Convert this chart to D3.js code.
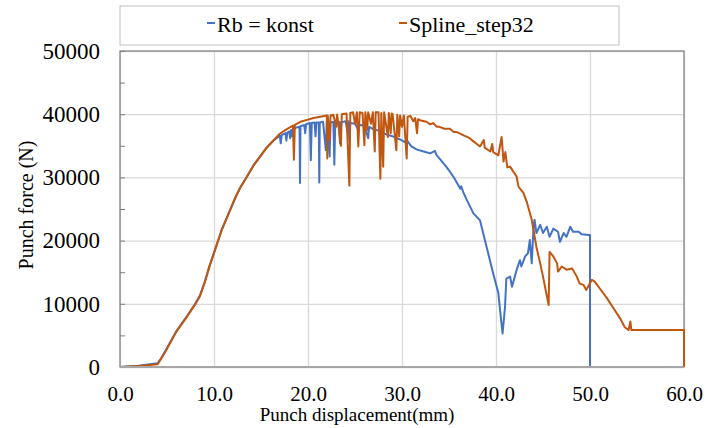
<!DOCTYPE html>
<html>
<head>
<meta charset="utf-8">
<script src="https://cdn.jsdelivr.net/npm/d3@7"></script>
<style>
  body { margin: 0; background: #fff; }
  svg text { font-family: "Liberation Serif", "Times New Roman", serif; fill: #000; }
</style>
</head>
<body>
<div id="graph"></div>
<script>
// punch displacement (mm) / punch force (N)
var rbX = [0, 2.0, 4.0, 4.3, 5.0, 6.0, 7.0, 8.0, 8.5, 9.0, 9.5, 10.1, 10.8, 11.7, 12.3, 12.8, 13.5, 14.2, 14.9, 15.6, 16.3, 17.0,
  17.1, 17.2, 17.6, 17.7, 17.8, 18.0, 18.1, 18.2, 18.3, 18.4, 18.8, 19.1, 19.15, 19.2, 19.6, 19.7, 19.8, 20.2, 20.3, 20.4,
  20.7, 20.8, 20.9, 21.15, 21.2, 21.25, 21.6, 21.9, 22.0, 22.3, 22.4, 22.7, 22.8, 22.9, 23.3, 23.4, 23.5, 24.0, 24.2, 24.3,
  24.4, 24.5, 25.0, 25.3, 25.5, 26.0, 26.4, 26.5, 27.0, 27.5, 28.0, 28.5, 29.0, 29.8, 30.3, 30.5, 31.0, 31.6, 32.3, 33.0,
  33.5, 33.7, 34.2, 34.7, 35.1, 35.6, 36.2, 36.3, 36.5, 36.9, 37.6, 38.3, 39.0, 39.7, 40.25, 40.5, 40.7, 40.96,
  41.1, 41.5, 41.7, 42.0, 42.2, 42.55, 42.7, 43.1, 43.4, 43.6, 43.8, 44.0, 44.1, 44.3, 44.7, 45.0, 45.4, 45.7,
  46.1, 46.6, 46.8, 47.2, 47.5, 47.9, 48.2, 48.8, 49.1, 49.9, 50.0, 50.0];
var rbY = [0, 200, 600, 1200, 3000, 5700, 7800, 10000, 11300, 13400, 15900, 18500, 21600, 24800, 26900, 28400, 30100, 31900, 33300, 34700, 35800, 36600,
  35400, 36700, 37000, 35800, 37100, 37300, 36200, 37500, 36500, 37600, 37900, 38000, 29100, 38100, 38300, 37000, 38400, 38600, 32700, 38600,
  38700, 36500, 38700, 38700, 29200, 38700, 38800, 34300, 38800, 33300, 38700, 38800, 32000, 38800, 38800, 35400, 38700, 38900, 37200, 38900,
  35800, 38600, 38500, 37600, 38300, 38200, 36200, 38000, 37600, 37400, 37000, 36700, 36500, 36000, 35600, 35900, 34900, 34400, 34100, 33800,
  34200, 33500, 32600, 31700, 30900, 29800, 28200, 28600, 27700, 26400, 24300, 23200, 19000, 14800, 11700, 8000, 5300, 9500,
  14000, 14300, 12700, 14300, 15400, 16900, 15900, 17500, 18000, 20100, 16400, 22200, 23300, 21200, 22500, 21200, 22200, 20600,
  21900, 21400, 19800, 21200, 20600, 22200, 21400, 21400, 21000, 20900, 20900, 0];

var splX = [0, 2.0, 4.0, 4.3, 5.0, 6.0, 7.0, 8.0, 8.5, 9.0, 9.5, 10.1, 10.8, 11.7, 12.3, 12.8, 13.5, 14.2, 14.9, 15.6, 16.3, 17.0,
  17.7, 18.4, 18.5, 18.6, 19.2, 19.9, 20.6, 21.3, 22.0, 22.05, 22.1, 22.3, 22.4, 22.7, 23.0, 23.1, 23.5, 23.6, 24.1, 24.4,
  24.5, 24.8, 25.0, 25.2, 25.35, 25.5, 25.8, 26.0, 26.1, 26.3, 26.4, 26.7, 26.9, 27.1, 27.2, 27.5, 27.7, 27.8, 28.0,
  28.1, 28.5, 28.6, 28.8, 28.9, 29.0, 29.4, 29.5, 29.7, 29.8, 30.0, 30.2, 30.5, 30.6, 30.9, 31.2, 31.4, 31.6, 31.7, 32.0, 32.6,
  33.0, 33.3, 33.7, 34.0, 34.5, 35.1, 35.5, 35.8, 36.5, 37.2, 37.6, 38.3, 38.7, 38.8, 39.4, 39.6, 39.7, 40.25,
  40.6, 40.8, 41.0, 41.2, 41.5, 42.2, 42.4, 42.9, 43.3, 43.8, 44.3, 44.7, 45.0, 45.6, 45.7, 46.1, 46.5, 46.6,
  47.0, 47.5, 48.1, 48.6, 48.9, 49.3, 49.6, 50.2, 50.5, 51.1, 51.8, 52.5, 53.2, 53.7, 54.1, 54.3, 54.4, 60.0, 60.0];
var splY = [0, 150, 450, 1100, 2900, 5600, 7700, 9900, 11200, 13300, 15800, 18500, 21600, 24800, 26900, 28400, 30100, 31900, 33300, 34700, 35800, 36900,
  37600, 38200, 32800, 38300, 38800, 39100, 39400, 39600, 39800, 33000, 39800, 35900, 39800, 39900, 38000, 39950, 35000, 40000, 40100, 28700,
  40200, 40300, 38500, 40300, 34900, 40300, 40200, 35100, 40300, 37500, 40300, 38500, 40300, 34100, 40300, 40300, 29800, 40200, 31700,
  40300, 36400, 40200, 37000, 40100, 40000, 34300, 39900, 36500, 39800, 38000, 39800, 33000, 39600, 39700, 38900, 39400, 37000, 39200, 39000, 38800,
  38400, 38600, 38000, 38000, 37700, 37700, 37200, 37200, 36700, 36200, 35700, 34900, 35900, 34700, 34100, 35300, 34000, 33500,
  36400, 32500, 34000, 31600, 31700, 30100, 28500, 27600, 26000, 23300, 19000, 16400, 14300, 9800, 18200, 17500, 16400, 15100,
  15900, 15400, 15600, 14300, 13200, 13000, 12200, 13800, 13500, 12300, 10900, 9300, 7700, 6300, 5850, 7200, 5850, 5850, 0];

var seriesNames = ["Rb = konst", "Spline_step32"];
var seriesColors = ["#4472C4", "#C0560F"];
var xTicks = [0, 10, 20, 30, 40, 50, 60];
var yTicks = [0, 10000, 20000, 30000, 40000, 50000];

var W = 712, H = 428;
var margin = {top: 51, right: 28, bottom: 61, left: 120};
var width = W - margin.left - margin.right,
    height = H - margin.top - margin.bottom;

var svg = d3.select("#graph").append("svg")
    .attr("width", W)
    .attr("height", H);

var g = svg.append("g")
    .attr("transform", "translate(" + margin.left + "," + margin.top + ")");

var x = d3.scaleLinear().domain([0, 60]).range([0, width]);
var y = d3.scaleLinear().domain([0, 50000]).range([height, 0]);

function serif(s, size) {
  s.style("font-family", "'Liberation Serif', serif").style("font-size", size).attr("fill", "#000");
}

// gridlines
g.append("g")
  .attr("transform", "translate(0," + height + ")")
  .call(d3.axisBottom(x).tickValues(xTicks).tickSize(-height).tickFormat(""))
  .call(function(s) { s.select(".domain").remove(); s.selectAll("line").attr("stroke", "#d9d9d9").attr("stroke-width", 1.3); });
g.append("g")
  .call(d3.axisLeft(y).tickValues(yTicks).tickSize(-width).tickFormat(""))
  .call(function(s) { s.select(".domain").remove(); s.selectAll("line").attr("stroke", "#d9d9d9").attr("stroke-width", 1.3); });

// frame
g.append("rect")
  .attr("width", width).attr("height", height)
  .attr("fill", "none").attr("stroke", "#7f7f7f").attr("stroke-width", 1.2);

// y ticks inside every 5000
g.append("g")
  .call(d3.axisRight(y).tickValues(d3.range(0, 50001, 5000)).tickSize(5).tickFormat(""))
  .call(function(s) { s.select(".domain").remove(); s.selectAll("line").attr("stroke", "#7f7f7f"); });

// y labels
g.append("g")
  .call(d3.axisLeft(y).tickValues(yTicks).tickSize(0).tickPadding(20).tickFormat(d3.format("d")))
  .call(function(s) { s.select(".domain").remove(); serif(s.selectAll("text"), "23px"); });

// x labels
g.append("g")
  .attr("transform", "translate(0," + height + ")")
  .call(d3.axisBottom(x).tickValues(xTicks).tickSize(0).tickPadding(19).tickFormat(d3.format(".1f")))
  .call(function(s) { s.select(".domain").remove(); serif(s.selectAll("text"), "21px"); });

// series
var line = d3.line()
  .x(function(d) { return x(d[0]); })
  .y(function(d) { return y(d[1]); });

var series = [d3.zip(rbX, rbY), d3.zip(splX, splY)];
series.forEach(function(data, i) {
  g.append("path")
    .datum(data)
    .attr("fill", "none")
    .attr("stroke", seriesColors[i])
    .attr("stroke-width", 2)
    .attr("stroke-linejoin", "round")
    .attr("d", line);
});

// bottom axis line
g.append("line")
  .attr("x1", 0).attr("x2", width)
  .attr("y1", height).attr("y2", height)
  .attr("stroke", "#a6a6a6").attr("stroke-width", 2);

// axis titles
svg.append("text")
  .attr("x", 357).attr("y", 421)
  .attr("text-anchor", "middle")
  .call(serif, "19px")
  .text("Punch displacement(mm)");
svg.append("text")
  .attr("transform", "translate(33,205) rotate(-90)")
  .attr("text-anchor", "middle")
  .call(serif, "20px")
  .text("Punch force (N)");

// legend
var legend = svg.append("g");
legend.append("rect")
  .attr("x", 120).attr("y", 6).attr("width", 499).attr("height", 39)
  .attr("fill", "#fff").attr("stroke", "#bfbfbf");
var legX = [207, 399];
seriesNames.forEach(function(name, i) {
  legend.append("line")
    .attr("x1", legX[i]).attr("x2", legX[i] + 8)
    .attr("y1", 23).attr("y2", 23)
    .attr("stroke", seriesColors[i]).attr("stroke-width", 2);
  legend.append("text")
    .attr("x", legX[i] + 10).attr("y", 32)
    .call(serif, "22px")
    .text(name);
});
</script>
</body>
</html>
